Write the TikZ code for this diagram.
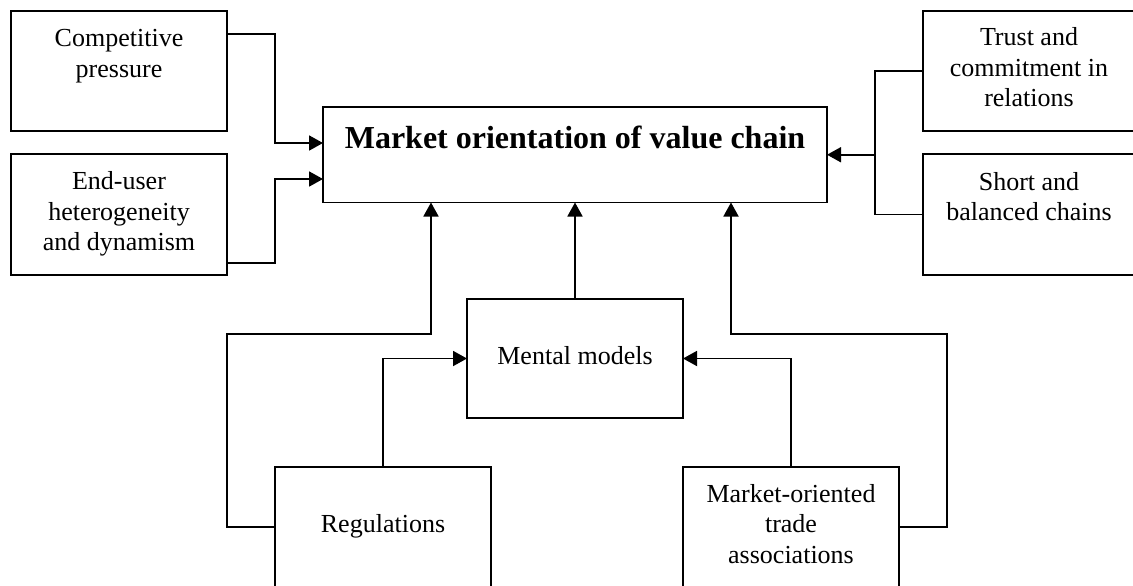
\documentclass[tikz,border=0pt]{standalone}
\usepackage{fontspec}
\setmainfont{Liberation Serif}
\usetikzlibrary{arrows.meta}

\begin{document}
\begin{tikzpicture}[x=0.5pt, y=-0.5pt,
  box/.style={draw, line width=0.9pt, minimum width=108pt, minimum height=60pt,
              inner sep=0pt, outer sep=0pt},
  lbl/.style={anchor=base, align=center, inner sep=0pt,
              font=\fontsize{13}{15.2}\selectfont},
  link/.style={line width=0.9pt},
  feed/.style={link, -{Triangle[length=7pt, width=7.5pt]}}]

  % page frame; the outer boxes run past its right and bottom edges
  \clip (0,0) rectangle (1133,585);
  \fill[white] (0,0) rectangle (1133,585);

  % boxes
  \node[box] (cp) at (119,71) {};
  \node[box, minimum height=60.5pt] (eu) at (119,214.5) {};
  \node[box, minimum width=252pt, minimum height=47.75pt] (mo) at (575,154.75) {};
  \node[box, minimum width=106.5pt] (tr) at (1029.5,71) {};
  \node[box, minimum width=106.5pt, minimum height=60.5pt] (sh) at (1029.5,214.5) {};
  \node[box, minimum height=59.5pt] (mm) at (575,358.5) {};
  \node[box] (rg) at (383,527) {};
  \node[box] (ta) at (791,527) {};

  % texts (placed by the baseline of their last line)
  \node[lbl] (cpt) at (119,77) {Competitive\\pressure};
  \node[lbl] (eut) at (119,250.5) {End-user\\heterogeneity\\and dynamism};
  \node[anchor=base, inner sep=0pt, font=\fontsize{16}{19}\selectfont\bfseries]
       (mot) at (575,148) {Market orientation of value chain};
  \node[lbl] (trt) at (1029,106.5) {Trust and\\commitment in\\relations};
  \node[lbl] (sht) at (1029,220.5) {Short and\\balanced chains};
  \node[lbl] (mmt) at (575,364) {Mental models};
  \node[lbl] (rgt) at (383,532) {Regulations};
  \node[lbl] (tat) at (791,563) {Market-oriented\\trade\\associations};

  % connectors from the left
  \draw[feed] (cp.east |- 0,34) -| (275,143) -- (mo.west |- 0,143);
  \draw[feed] (eu.east |- 0,263) -| (275,179) -- (mo.west |- 0,179);

  % connectors from the right
  \draw[link] (tr.west) -- ++(-48,0) |- (sh.west);
  \draw[feed] (mo.east -| 875,0) -- (mo.east);

  % connectors from below
  \draw[feed] (mm.north) -- (mo.south);
  \draw[feed] (rg.west) -- ++(-48,0) |- (431,334) -- (mo.south -| 431,0);
  \draw[feed] (ta.east) -- ++(48,0) |- (731,334) -- (mo.south -| 731,0);
  \draw[feed] (rg.north) |- (mm.west);
  \draw[feed] (ta.north) |- (mm.east);
\end{tikzpicture}
\end{document}
